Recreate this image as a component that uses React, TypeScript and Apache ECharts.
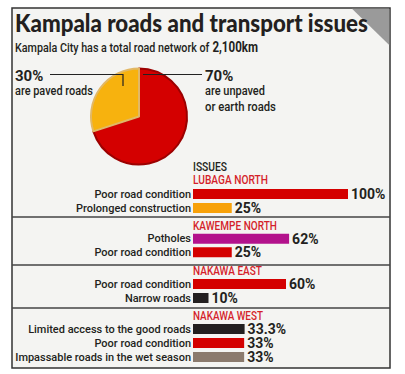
import React, { useEffect, useRef } from "react";
import * as echarts from "echarts";

const title = "Kampala roads and transport issues";
const subtitlePrefix = "Kampala City has a total road network of ";
const totalNetwork = "2,100km";

const pieNames = ["are unpaved or earth roads", "are paved roads"];
const pieValues = [70, 30];

const districts = ["LUBAGA NORTH", "KAWEMPE NORTH", "NAKAWA EAST", "NAKAWA WEST"];

const lubagaIssues = ["Poor road condition", "Prolonged construction"];
const lubagaValues = [100, 25];
const kawempeIssues = ["Potholes", "Poor road condition"];
const kawempeValues = [62, 25];
const nakawaEastIssues = ["Poor road condition", "Narrow roads"];
const nakawaEastValues = [60, 10];
const nakawaWestIssues = [
  "Limited access to the good roads",
  "Poor road condition",
  "Impassable roads in the wet season",
];
const nakawaWestValues = [33.3, 33, 33];

const RED = "#d40000";
const issueColors: Record<string, string> = {
  "Poor road condition": RED,
  "Prolonged construction": "#f7a10a",
  Potholes: "#b3128c",
  "Narrow roads": "#231f20",
  "Limited access to the good roads": "#231f20",
  "Impassable roads in the wet season": "#8b7a6d",
};

const FONT = "Roboto, 'Noto Sans', sans-serif";
const TITLE_FONT = "Lato, Roboto, sans-serif";
const INK = "#231f20";

const sections = [
  { issues: lubagaIssues, values: lubagaValues, top: 187, height: 28, header: 180.5 },
  { issues: kawempeIssues, values: kawempeValues, top: 232, height: 27, header: 226.5 },
  { issues: nakawaEastIssues, values: nakawaEastValues, top: 277, height: 28, header: 271.5 },
  { issues: nakawaWestIssues, values: nakawaWestValues, top: 322, height: 42, header: 316.5 },
];
const dividers = [217, 265, 308];
const headerWidths = [75, 84, 69, 70];

let measureCtx: CanvasRenderingContext2D | null = null;
function measure(text: string, font: string) {
  if (!measureCtx) measureCtx = document.createElement("canvas").getContext("2d");
  if (!measureCtx) return text.length * 6;
  measureCtx.font = font;
  return measureCtx.measureText(text).width;
}

export default function App() {
  const ref = useRef<HTMLDivElement>(null);
  useEffect(() => {
    if (!ref.current) return;
    const chart = echarts.init(ref.current, undefined, { renderer: "svg" });

    const longest = nakawaWestIssues[2];
    const labelSize = Math.min(12.5, (12 * 176) / measure(longest, `500 12px Roboto`));

    const titleScale = 353 / measure(title, `900 24px Lato`);
    const subScale =
      243 / (measure(subtitlePrefix, `500 13px Roboto`) + measure(totalNetwork, `bold 14px Roboto`));
    const textScale = (t: string, target: number, font: string) => target / measure(t, font);

    const grids = sections.map((s) => ({ left: 193, width: 155, top: s.top, height: s.height }));
    const xAxes = sections.map((_, i) => ({
      type: "value" as const,
      gridIndex: i,
      min: 0,
      max: 100,
      show: false,
    }));
    const yAxes = sections.map((s, i) => ({
      type: "category" as const,
      gridIndex: i,
      data: s.issues,
      inverse: true,
      axisLine: { show: false },
      axisTick: { show: false },
      splitLine: { show: false },
      axisLabel: {
        color: INK,
        fontSize: labelSize,
        fontWeight: 500,
        fontFamily: FONT,
        margin: 2,
        interval: 0,
        lineHeight: 12,
      },
    }));
    const barSeries = sections.map((s, i) => ({
      type: "bar" as const,
      xAxisIndex: i,
      yAxisIndex: i,
      barWidth: 10,
      data: s.values.map((v, j) => ({ value: v, itemStyle: { color: issueColors[s.issues[j]] } })),
      label: {
        show: true,
        position: "right" as const,
        distance: 3,
        formatter: (p: any) => `${p.value}%`,
        color: INK,
        fontSize: 14,
        lineHeight: 12,
        fontWeight: "bold" as const,
        fontFamily: FONT,
      },
    }));

    const smallText = (text: string, x: number, y: number, target: number, fill = INK, size = 13) => ({
      type: "text",
      x,
      y,
      scaleX: Math.min(1, textScale(text, target, `500 ${size}px Roboto`)),
      style: { text, fill, fontSize: size, fontWeight: 500, fontFamily: FONT, verticalAlign: "middle" },
    });

    const graphics: any[] = [
      {
        type: "rect",
        z: -10,
        shape: { x: 12, y: 8, width: 378, height: 360 },
        style: { fill: "#f4f4f2", stroke: "#333", lineWidth: 1.5 },
      },
      {
        type: "polygon",
        z: -9,
        shape: { points: [[352, 8.8], [389.2, 8.8], [389.2, 45]] },
        style: { fill: "#9a9a9a" },
      },
      {
        type: "text",
        x: 15,
        y: 22.5,
        scaleX: titleScale,
        style: {
          text: title,
          fill: INK,
          fontSize: 24,
          fontWeight: 900,
          fontFamily: TITLE_FONT,
          verticalAlign: "middle",
        },
      },
      {
        type: "text",
        x: 15,
        y: 47.5,
        scaleX: subScale,
        style: {
          text: `{a|${subtitlePrefix}}{b|${totalNetwork}}`,
          verticalAlign: "middle",
          rich: {
            a: { fill: INK, fontSize: 13, fontWeight: 500, fontFamily: FONT },
            b: { fill: INK, fontSize: 14, fontWeight: "bold", fontFamily: FONT },
          },
        },
      },
      {
        type: "text",
        x: 15,
        y: 76,
        style: { text: `${pieValues[1]}%`, fill: INK, fontSize: 15, fontWeight: "bold", fontFamily: FONT, verticalAlign: "middle" },
      },
      smallText(pieNames[1], 15, 91, 78),
      {
        type: "text",
        x: 205,
        y: 76,
        style: { text: `${pieValues[0]}%`, fill: INK, fontSize: 15, fontWeight: "bold", fontFamily: FONT, verticalAlign: "middle" },
      },
      smallText("are unpaved", 205, 91, 60),
      smallText("or earth roads", 205, 106.5, 71),
      {
        type: "polyline",
        z: 10,
        shape: { points: [[50, 74.5], [123, 74.5], [123, 86]] },
        style: { stroke: "#222", lineWidth: 1.2, fill: "none" },
      },
      {
        type: "line",
        z: 10,
        shape: { x1: 143, y1: 74.5, x2: 202, y2: 74.5 },
        style: { stroke: "#222", lineWidth: 1.2 },
      },
      smallText("ISSUES", 193, 167.5, 34, INK, 12),
      ...districts.map((d, i) => smallText(d, 193, sections[i].header, headerWidths[i], "#d41f2b", 12)),
      ...dividers.map((y) => ({
        type: "line",
        shape: { x1: 12, y1: y, x2: 390, y2: y },
        style: { stroke: "#444", lineWidth: 1.3 },
      })),
    ];

    chart.setOption({
      animation: false,
      backgroundColor: "#ffffff",
      grid: grids,
      xAxis: xAxes,
      yAxis: yAxes,
      series: [
        {
          type: "pie",
          center: [139, 116.5],
          radius: [0, 48],
          startAngle: 90,
          clockwise: true,
          silent: true,
          label: { show: false },
          labelLine: { show: false },
          data: pieNames.map((n, i) => ({
            name: n,
            value: pieValues[i],
            itemStyle:
              i === 0
                ? { color: RED, borderColor: "#9c0000", borderWidth: 2 }
                : { color: "#f7b20e", borderColor: "#e2b866", borderWidth: 2 },
          })),
        },
        ...barSeries,
      ],
      graphic: graphics,
    });
    return () => chart.dispose();
  }, []);

  return (
    <div
      ref={ref}
      style={{ position: "fixed", left: 0, top: 0, width: 405, height: 374 }}
    />
  );
}
